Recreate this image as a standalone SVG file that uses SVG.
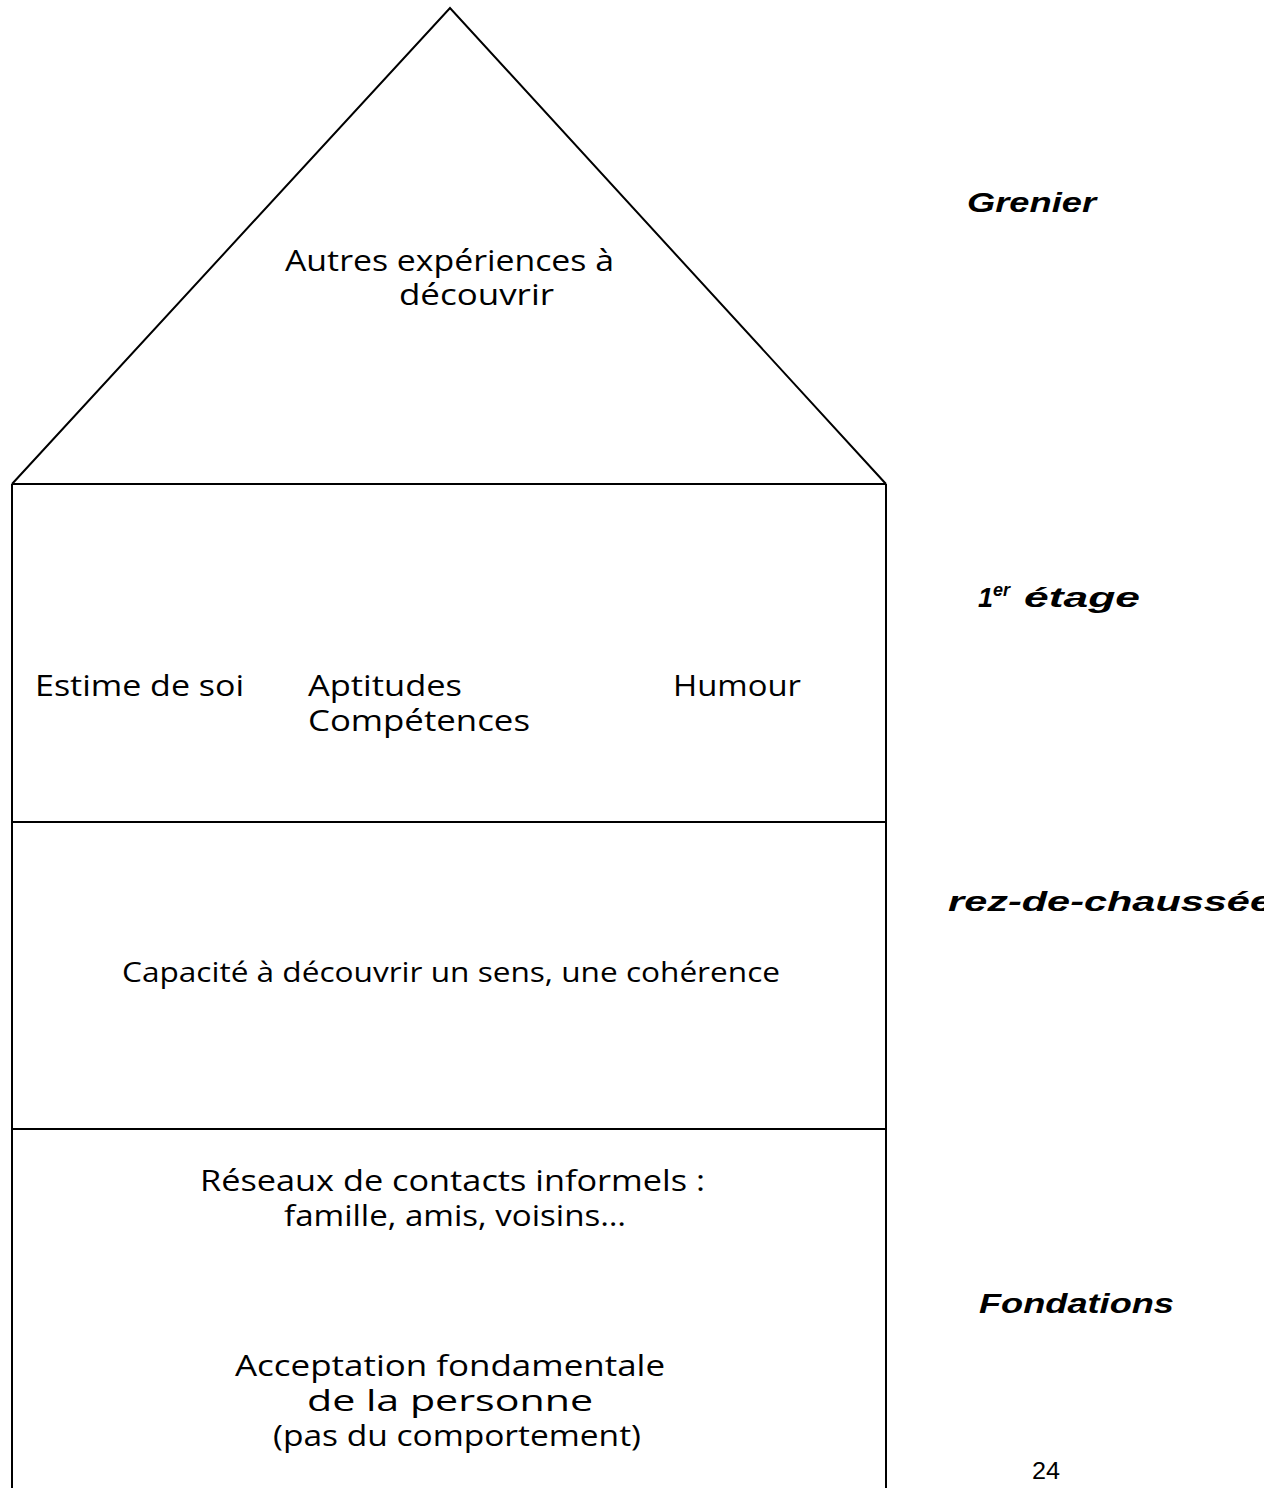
<svg xmlns="http://www.w3.org/2000/svg" width="1264" height="1488" viewBox="0 0 1264 1488">
<style>
.ln{fill:none;stroke:#000;stroke-width:2}
.t{font-family:"Open Sans","DejaVu Sans",sans-serif;font-size:30px;fill:#000}
.ts{font-family:"Open Sans","DejaVu Sans",sans-serif;font-size:28px;fill:#000}
.lab{font-family:"Liberation Sans",Arial,sans-serif;font-size:27px;font-weight:bold;font-style:italic;fill:#000}
.pg{font-family:"Liberation Sans",Arial,sans-serif;font-size:24px;fill:#000}
</style>
<rect width="1264" height="1488" fill="#fff"/>
<g id="house">
<polyline class="ln" points="12,484 450,8 886,484"/>
<line class="ln" x1="12" y1="484" x2="886" y2="484"/>
<line class="ln" x1="12" y1="822" x2="886" y2="822"/>
<line class="ln" x1="12" y1="1129" x2="886" y2="1129"/>
<line class="ln" x1="12" y1="484" x2="12" y2="1488"/>
<line class="ln" x1="886" y1="484" x2="886" y2="1488"/>
</g>
<g id="grenier-content">
<text class="t" x="285" y="271" textLength="329" lengthAdjust="spacingAndGlyphs">Autres expériences à</text>
<text class="t" x="399" y="305" textLength="155" lengthAdjust="spacingAndGlyphs">découvrir</text>
</g>
<g id="etage-content">
<text class="t" x="35" y="696" textLength="209" lengthAdjust="spacingAndGlyphs">Estime de soi</text>
<text class="t" x="308" y="696" textLength="154" lengthAdjust="spacingAndGlyphs">Aptitudes</text>
<text class="t" x="308" y="731" textLength="222" lengthAdjust="spacingAndGlyphs">Compétences</text>
<text class="t" x="673" y="696" textLength="128" lengthAdjust="spacingAndGlyphs">Humour</text>
</g>
<g id="rdc-content">
<text class="ts" x="122" y="982" textLength="658" lengthAdjust="spacingAndGlyphs">Capacité à découvrir un sens, une cohérence</text>
</g>
<g id="fondations-content">
<text class="t" x="200" y="1191" textLength="505" lengthAdjust="spacingAndGlyphs">Réseaux de contacts informels :</text>
<text class="t" x="284" y="1226" textLength="342" lengthAdjust="spacingAndGlyphs">famille, amis, voisins…</text>
<text class="t" x="235" y="1376" textLength="430" lengthAdjust="spacingAndGlyphs">Acceptation fondamentale</text>
<text class="t" x="307" y="1411" textLength="286" lengthAdjust="spacingAndGlyphs">de la personne</text>
<text class="t" x="273" y="1446" textLength="368" lengthAdjust="spacingAndGlyphs">(pas du comportement)</text>
</g>
<g id="labels">
<text class="lab" x="967" y="212" textLength="129" lengthAdjust="spacingAndGlyphs">Grenier</text>
<text class="lab" x="978" y="607">1<tspan font-size="18" dy="-11">er</tspan></text>
<text class="lab" x="1024" y="607" textLength="116" lengthAdjust="spacingAndGlyphs">étage</text>
<text class="lab" x="948" y="911" textLength="325" lengthAdjust="spacingAndGlyphs">rez-de-chaussée</text>
<text class="lab" x="979" y="1313" textLength="195" lengthAdjust="spacingAndGlyphs">Fondations</text>
</g>
<text class="pg" x="1032" y="1479" textLength="28" lengthAdjust="spacingAndGlyphs">24</text>
</svg>
